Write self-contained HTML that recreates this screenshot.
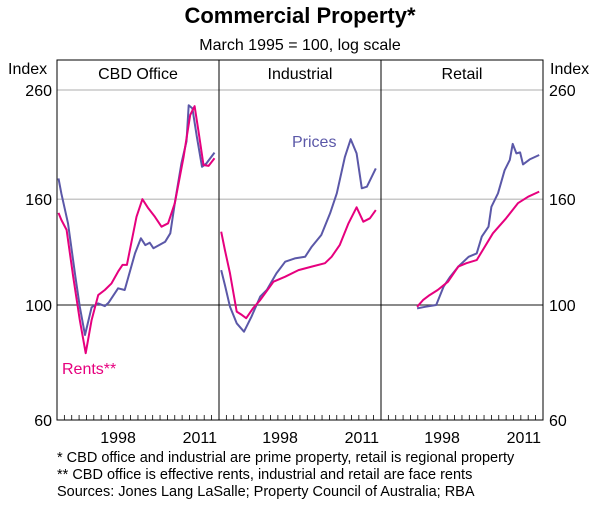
<!DOCTYPE html>
<html><head><meta charset="utf-8"><style>
body{margin:0;background:#fff;width:600px;height:502px;overflow:hidden;font-family:"Liberation Sans",Arial,sans-serif}
</style></head><body>
<svg id="c" width="600" height="502" xmlns="http://www.w3.org/2000/svg" font-family="Liberation Sans, Arial, sans-serif">
<text x="300" y="23" text-anchor="middle" font-size="22" font-weight="bold">Commercial Property*</text>
<text x="300" y="50" text-anchor="middle" font-size="16">March 1995 = 100, log scale</text>
<text x="8" y="74" font-size="16">Index</text>
<text x="550" y="74" font-size="16">Index</text>
<g id="grid"></g>
<g id="series"></g>
<rect x="57" y="60" width="486" height="360" fill="none" stroke="#000" stroke-width="1"/>
<line x1="219" y1="60" x2="219" y2="420" stroke="#000"/>
<line x1="381" y1="60" x2="381" y2="420" stroke="#000"/>
<text x="138" y="79" text-anchor="middle" font-size="16">CBD Office</text>
<text x="300" y="79" text-anchor="middle" font-size="16">Industrial</text>
<text x="462" y="79" text-anchor="middle" font-size="16">Retail</text>
<text x="292" y="147" font-size="16" fill="#5b58a8">Prices</text>
<text x="62" y="374" font-size="16" fill="#e6007e">Rents**</text>
<text x="57" y="462" font-size="14.5">*  CBD office and industrial are prime property, retail is regional property</text>
<text x="57" y="479" font-size="14.5">** CBD office is effective rents, industrial and retail are face rents</text>
<text x="57" y="496" font-size="14.5">Sources: Jones Lang LaSalle; Property Council of Australia; RBA</text>
<g id="axes"></g>
</svg>
<script>
const yTicks=[260,160,100,60];
const xTickLabels=["1998","2011"];
const panelStarts=[57,219,381];
const cbdPriceYears=[1990.2,1990.6,1991.5,1992.5,1993.1,1993.8,1994.7,1995.6,1996.5,1997,1998.3,1999.2,2000.6,2001.4,2002,2002.6,2003.1,2004.7,2005.4,2006,2006.9,2007.6,2007.9,2008.4,2009,2009.7,2010.3,2011.4];
const cbdPriceValues=[175.5,164,143.8,113.4,99.2,87.5,99,100.7,99.5,101,107.7,106.9,125.8,134.5,130.5,131.9,128.7,132.5,137.5,157.2,187.6,206.9,243,239.6,211.5,184.8,187.6,196.9];
const cbdRentYears=[1990.2,1990.6,1991.3,1992.2,1993.1,1993.9,1994.7,1995.6,1996.5,1997.4,1998.3,1998.9,1999.5,2000.8,2001.6,2002.4,2003.3,2004.2,2005.1,2006,2007.2,2008.1,2008.7,2009.2,2009.9,2010.6,2011.4];
const cbdRentValues=[150.6,145.9,139.6,113.4,93.5,80.7,93.5,104.5,106.9,110.1,116,119.5,119.5,148,160,153.7,148,141.6,143.8,157.2,193.1,232.7,242,217.7,186.3,185.6,191.9];
const indPriceYears=[1990.3,1990.8,1991.5,1992.4,1993.4,1994.4,1995.6,1996.5,1997.8,1999,2000.3,2001.7,2002.6,2003.9,2005.1,2006,2007.1,2007.9,2008.7,2009.4,2010.1,2011.3];
const indPriceValues=[116.8,109.3,99.2,92.2,88.8,94.9,103.8,106.9,115.1,121.2,123,123.9,129.6,136.5,150.3,164.3,193.1,208.9,196.2,168,169.2,183.5];
const indRentYears=[1990.3,1990.8,1991.5,1992.4,1993.1,1993.7,1994.6,1995.6,1997.4,1999,2000.8,2002.6,2004.4,2005.3,2006.4,2007.6,2008.7,2009.6,2010.5,2011.3];
const indRentValues=[138.5,127.7,115.1,97.1,95.7,94.3,98.5,102.2,110.9,113.4,116.8,118.6,120.4,123.9,130.5,143.8,154.4,144.8,147,152.5];
const retPriceYears=[1994.9,1996,1997.5,1998.5,1999.4,2000.5,2001.9,2003,2003.7,2004.6,2005,2005.9,2006.8,2007.5,2007.9,2008.4,2008.9,2009.3,2010.2,2011.5];
const retPriceValues=[98.5,99.2,100,108.5,113.4,118.6,123.9,125.8,135.5,141.6,154.7,164.3,182,190.6,204.6,196.2,197,186.8,191,194.8];
const retRentYears=[1994.9,1995.7,1996.6,1997.7,1999.1,2000.5,2001.6,2003,2005.2,2007,2008.6,2010,2011.5];
const retRentValues=[99.2,102.2,104.5,106.9,110.9,118.6,120.4,122.1,137.5,147,157.2,161.8,165.5];

const NS="http://www.w3.org/2000/svg";
function yScale(v){return 305-225*Math.log(v/100);}
function xScale(p,t){return panelStarts[p]+7.36*(t-1990);}
function mk(tag,attrs,parent){const e=document.createElementNS(NS,tag);for(const k in attrs)e.setAttribute(k,attrs[k]);parent.appendChild(e);return e;}
const grid=document.getElementById('grid'),axes=document.getElementById('axes'),ser=document.getElementById('series');
yTicks.forEach(v=>{
  const y=yScale(v);
  if(v!==60){
    const l=mk('line',{x1:57,x2:543,y1:y,y2:y,stroke:v===100?'#444':'#c8c8c8','stroke-width':v===100?1.2:1.5},grid);
    
    
  }
  const ty=v===60?Math.min(y+6,426):y+6;
  const a=mk('text',{x:52,y:ty,'text-anchor':'end','font-size':16},axes);a.textContent=v;
  
  
  const b=mk('text',{x:549,y:ty,'font-size':16},axes);b.textContent=v;
  
  
});
for(let p=0;p<3;p++){
  for(let yr=1991;yr<2012;yr++){
    const x=xScale(p,yr);
    const t=mk('line',{x1:x,x2:x,y1:420,y2:415,stroke:'#000','stroke-width':0.8},axes);
    
    
  }
  const l1=mk('text',{x:xScale(p,1998.3),y:443,'text-anchor':'middle','font-size':16},axes);l1.textContent=xTickLabels[0];
  
  
  const l2=mk('text',{x:panelStarts[p]+160,y:443,'text-anchor':'end','font-size':16},axes);l2.textContent=xTickLabels[1];
  
  
}
function line(p,xs,vs,color,name){
  const d=xs.map((t,i)=>(i?'L':'M')+xScale(p,t).toFixed(1)+','+yScale(vs[i]).toFixed(1)).join('');
  const e=mk('path',{d:d,fill:'none',stroke:color,'stroke-width':2,'stroke-linejoin':'round'},ser);
  
  
}
const blue='#5b58a8',pink='#e6007e';
line(0,cbdPriceYears,cbdPriceValues,blue,'cbd-prices-line');
line(0,cbdRentYears,cbdRentValues,pink,'cbd-rents-line');
line(1,indPriceYears,indPriceValues,blue,'industrial-prices-line');
line(1,indRentYears,indRentValues,pink,'industrial-rents-line');
line(2,retPriceYears,retPriceValues,blue,'retail-prices-line');
line(2,retRentYears,retRentValues,pink,'retail-rents-line');
</script>
</body></html>
